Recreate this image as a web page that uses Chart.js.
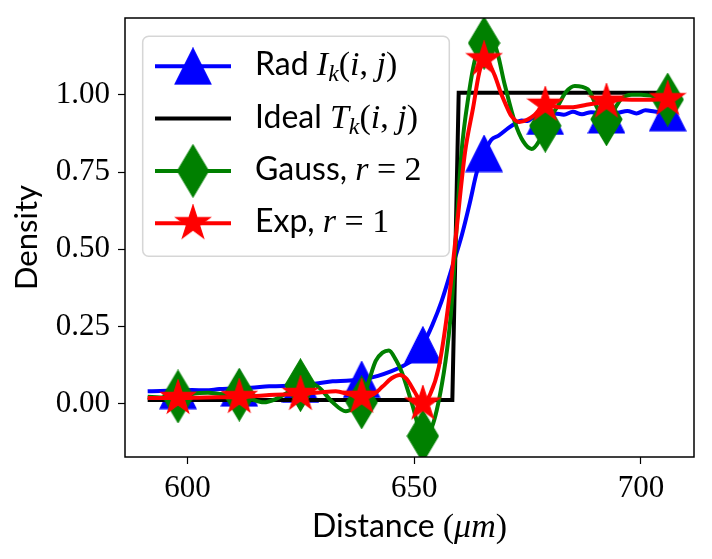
<!DOCTYPE html>
<html>
<head>
<meta charset="utf-8">
<script src="https://cdn.jsdelivr.net/npm/chart.js@4.4.1/dist/chart.umd.min.js"></script>
<style>
  html, body { margin: 0; padding: 0; background: #fff; }
  #chart { display: block; }
</style>
</head>
<body>
<canvas id="chart" width="712" height="559"></canvas>
<script>
// DATA
const markerX = [597.9, 611.4, 624.9, 638.4, 651.9, 665.4, 678.9, 692.4, 705.9];

const radX = [591.2, 594.0, 597.9, 601.0, 604.0, 607.0, 611.4, 614.0, 618.0, 621.0, 624.9, 628.0, 632.0, 635.0, 638.4, 642.0, 645.0, 647.5, 649.5, 651.9, 654.0, 656.0, 658.3, 660.5, 662.3, 663.8, 665.4, 667.0, 668.6, 670.8, 672.0, 673.6, 675.0, 676.0, 678.9, 681.0, 683.0, 685.0, 687.0, 689.0, 692.4, 695.0, 697.0, 699.0, 701.0, 703.0, 705.9];
const radY = [0.040, 0.041, 0.042, 0.044, 0.043, 0.047, 0.050, 0.051, 0.056, 0.057, 0.062, 0.064, 0.072, 0.074, 0.078, 0.090, 0.105, 0.122, 0.140, 0.190, 0.255, 0.330, 0.439, 0.546, 0.653, 0.750, 0.810, 0.855, 0.868, 0.893, 0.905, 0.917, 0.915, 0.925, 0.930, 0.940, 0.936, 0.945, 0.937, 0.944, 0.935, 0.942, 0.948, 0.940, 0.950, 0.946, 0.942];

const idealX = [591.2, 658.4, 659.8, 705.9];
const idealY = [0.012, 0.012, 1.007, 1.007];

const gaussX = [591.2, 594.0, 597.9, 601.0, 604.5, 608.0, 611.4, 614.0, 616.8, 619.5, 622.0, 624.9, 627.0, 629.0, 632.0, 634.9, 637.0, 638.4, 640.0, 641.5, 643.0, 644.4, 646.0, 647.3, 649.5, 651.9, 653.9, 656.1, 657.6, 658.3, 660.4, 662.0, 663.5, 665.4, 666.5, 667.8, 670.0, 672.2, 674.0, 675.9, 677.5, 678.9, 681.7, 683.5, 685.4, 688.3, 690.5, 692.4, 694.0, 695.6, 698.0, 700.0, 703.0, 705.9];
const gaussY = [0.022, 0.020, 0.023, 0.032, 0.035, 0.030, 0.029, 0.015, 0.004, 0.015, 0.035, 0.060, 0.065, 0.052, 0.004, -0.025, -0.012, 0.004, 0.074, 0.138, 0.165, 0.172, 0.140, 0.100, 0.000, -0.105, -0.076, 0.063, 0.220, 0.330, 0.810, 1.000, 1.120, 1.168, 1.170, 1.159, 1.030, 0.911, 0.850, 0.825, 0.850, 0.900, 0.965, 1.010, 1.029, 1.018, 0.954, 0.921, 0.950, 0.986, 1.000, 1.000, 0.995, 0.985];

const expX = [591.2, 597.9, 604.0, 611.4, 618.0, 624.9, 629.0, 632.7, 635.6, 638.4, 641.0, 643.0, 645.0, 646.8, 648.3, 650.0, 651.9, 653.5, 655.4, 657.6, 659.3, 661.2, 663.0, 664.3, 665.4, 666.5, 667.8, 669.0, 670.0, 671.4, 673.2, 675.0, 676.5, 678.9, 682.0, 685.0, 688.0, 692.4, 696.0, 700.0, 705.9];
const expY = [0.018, 0.018, 0.020, 0.021, 0.028, 0.031, 0.036, 0.040, 0.030, 0.022, 0.030, 0.055, 0.082, 0.093, 0.080, 0.040, 0.000, 0.030, 0.117, 0.330, 0.560, 0.814, 0.960, 1.070, 1.115, 1.100, 1.061, 1.010, 0.975, 0.932, 0.912, 0.920, 0.935, 0.968, 0.960, 0.960, 0.968, 0.978, 0.985, 0.984, 0.986];

const xTicks = [600, 650, 700];
const yTicks = [0, 0.25, 0.5, 0.75, 1.0];

const SANS = 'Lato';
const SERIF = '"Liberation Serif"';

// marker images shaped like the matplotlib ones (^, d, *)
function makeMarker(kind, color) {
  const c = document.createElement('canvas');
  const g = c.getContext('2d');
  if (kind === 'tri') {
    c.width = 38; c.height = 38;
    g.beginPath();
    g.moveTo(19, 1); g.lineTo(37, 37); g.lineTo(1, 37);
  } else if (kind === 'dia') {
    c.width = 33; c.height = 54;
    g.beginPath();
    g.moveTo(16.5, 1); g.lineTo(32, 27); g.lineTo(16.5, 53); g.lineTo(1, 27);
  } else {
    c.width = 38; c.height = 38;
    const R = 18, r = 18 * 0.381966;
    g.beginPath();
    for (let i = 0; i < 10; i++) {
      const rad = (i % 2 === 0) ? R : r;
      const a = i * Math.PI / 5;
      const px = 19 + rad * Math.sin(a), py = 19 - rad * Math.cos(a);
      if (i === 0) g.moveTo(px, py); else g.lineTo(px, py);
    }
  }
  g.closePath();
  g.fillStyle = color; g.fill();
  g.strokeStyle = color; g.lineWidth = 1.2; g.stroke();
  return c;
}

const triImg = makeMarker('tri', '#0000ff');
const diaImg = makeMarker('dia', '#008000');
const starImg = makeMarker('star', '#ff0000');

const isMarker = x => markerX.some(m => Math.abs(m - x) < 0.01);
const pts = (xs, ys) => xs.map((x, i) => ({ x, y: ys[i] }));

function series(label, xs, ys, color, img, order) {
  return {
    label,
    data: pts(xs, ys),
    borderColor: color,
    backgroundColor: color,
    borderWidth: 4,
    cubicInterpolationMode: 'monotone',
    pointStyle: img,
    pointRadius: c => (c.raw && isMarker(c.raw.x)) ? 18 : 0,
    pointBorderWidth: 0,
    pointHoverRadius: 0,
    order
  };
}

// legend texts, split into font runs
const legendRows = [
  { color: '#0000ff', img: triImg, runs: [['Rad ', 'sans'], ['I', 'it'], ['k', 'sub'], ['(', 'rm'], ['i', 'it'], [', ', 'rm'], ['j', 'it'], [')', 'rm']] },
  { color: '#000000', img: null, runs: [['Ideal ', 'sans'], ['T', 'it'], ['k', 'sub'], ['(', 'rm'], ['i', 'it'], [', ', 'rm'], ['j', 'it'], [')', 'rm']] },
  { color: '#008000', img: diaImg, runs: [['Gauss, ', 'sans'], ['r', 'it'], [' = ', 'rm'], ['2', 'rm']] },
  { color: '#ff0000', img: starImg, runs: [['Exp, ', 'sans'], ['r', 'it'], [' = ', 'rm'], ['1', 'rm']] }
];
const xTitleRuns = [['Distance ', 'sans'], ['(', 'rm'], ['μm', 'it'], [')', 'rm']];

const fonts = {
  sans: '32px ' + SANS,
  rm: '34px ' + SERIF,
  it: 'italic 34px ' + SERIF,
  sub: 'italic 24px ' + SERIF
};

function runsWidth(ctx, runs) {
  return runs.reduce((w, [t, f]) => { ctx.font = fonts[f]; return w + ctx.measureText(t).width; }, 0);
}
function drawRuns(ctx, runs, x, y) {
  ctx.textBaseline = 'alphabetic';
  ctx.textAlign = 'left';
  runs.forEach(([t, f]) => {
    ctx.font = fonts[f];
    ctx.fillText(t, x, f === 'sub' ? y + 6 : y);
    x += ctx.measureText(t).width;
  });
}

const overlay = {
  id: 'overlay',
  afterDatasetsDraw(chart) {
    const { ctx, chartArea: a } = chart;
    ctx.save();
    // frame
    ctx.strokeStyle = '#000';
    ctx.lineWidth = 1.5;
    ctx.strokeRect(a.left, a.top, a.right - a.left, a.bottom - a.top);

    // legend box
    const bx = a.left + 17.7, by = a.top + 18.3, bw = 306.6, bh = 220;
    ctx.beginPath();
    ctx.roundRect(bx, by, bw, bh, 6);
    ctx.fillStyle = 'rgba(255,255,255,0.8)';
    ctx.fill();
    ctx.strokeStyle = 'rgba(204,204,204,0.8)';
    ctx.lineWidth = 1.5;
    ctx.stroke();

    legendRows.forEach((row, i) => {
      const ry = by + 30 + i * 52.3;
      ctx.beginPath();
      ctx.moveTo(bx + 12.3, ry);
      ctx.lineTo(bx + 88.3, ry);
      ctx.strokeStyle = row.color;
      ctx.lineWidth = 4;
      ctx.stroke();
      if (row.img) ctx.drawImage(row.img, bx + 50.3 - row.img.width / 2, ry - row.img.height / 2);
      ctx.fillStyle = '#000';
      drawRuns(ctx, row.runs, bx + 112.3, ry + 9);
    });

    // x axis title
    const w = runsWidth(ctx, xTitleRuns);
    ctx.fillStyle = '#000';
    drawRuns(ctx, xTitleRuns, (a.left + a.right) / 2 - w / 2, 537);
    ctx.restore();
  }
};

const noPad = s => { s.paddingTop = 0; s.paddingBottom = 0; s.paddingLeft = 0; s.paddingRight = 0; };

new Chart(document.getElementById('chart').getContext('2d'), {
  type: 'line',
  data: {
    datasets: [
      series('Rad', radX, radY, '#0000ff', triImg, 3),
      { ...series('Ideal', idealX, idealY, '#000000', false, 2), cubicInterpolationMode: 'default', tension: 0, pointRadius: 0 },
      series('Gauss', gaussX, gaussY, '#008000', diaImg, 1),
      series('Exp', expX, expY, '#ff0000', starImg, 0)
    ]
  },
  options: {
    responsive: false,
    animation: false,
    layout: { padding: { top: 15, right: 15, left: 0, bottom: 0 } },
    plugins: { legend: { display: false }, tooltip: { enabled: false } },
    scales: {
      x: {
        type: 'linear',
        min: 586.2,
        max: 711.7,
        afterBuildTicks: s => { s.ticks = xTicks.map(v => ({ value: v })); },
        afterFit: s => { s.height = 102; noPad(s); },
        ticks: {
          callback: v => String(v),
          font: { family: 'Liberation Serif', size: 31 },
          color: '#000',
          padding: 6,
          maxRotation: 0
        },
        grid: { drawOnChartArea: false, drawTicks: true, tickLength: 7, tickWidth: 1.2, tickColor: '#000' },
        border: { display: false }
      },
      y: {
        min: -0.173,
        max: 1.249,
        afterBuildTicks: s => { s.ticks = yTicks.map(v => ({ value: v })); },
        afterFit: s => { s.width = 125; noPad(s); },
        ticks: {
          callback: v => v.toFixed(2),
          font: { family: 'Liberation Serif', size: 31 },
          color: '#000',
          padding: 8
        },
        grid: { drawOnChartArea: false, drawTicks: true, tickLength: 7, tickWidth: 1.2, tickColor: '#000' },
        border: { display: false },
        title: {
          display: true,
          text: 'Density',
          font: { family: 'Lato', size: 31 },
          color: '#000',
          padding: { top: 8, bottom: 0 }
        }
      }
    }
  },
  plugins: [overlay]
});
</script>
</body>
</html>
